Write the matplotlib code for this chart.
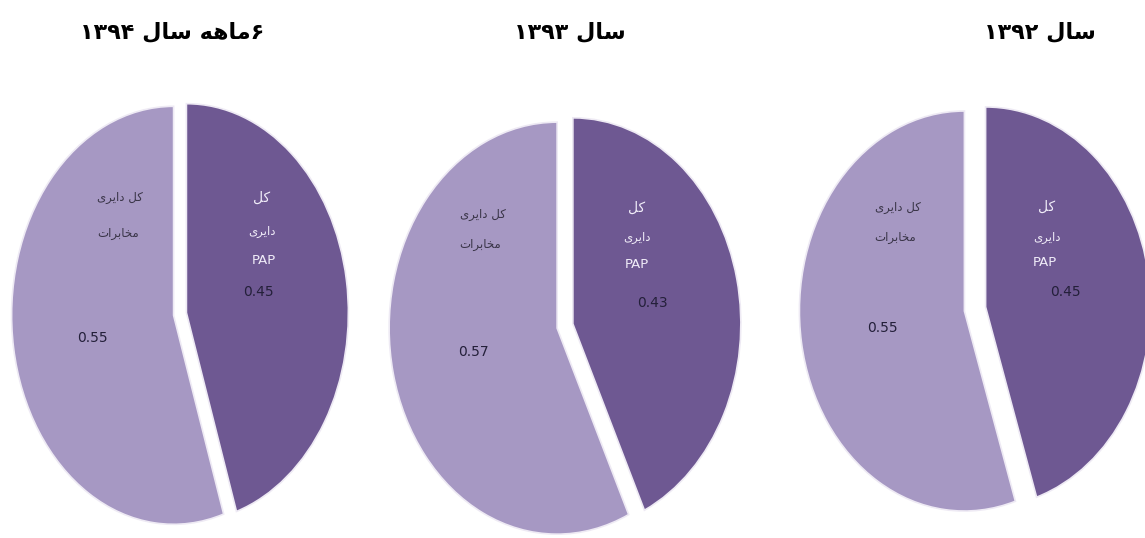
import matplotlib
matplotlib.use("Agg")
import matplotlib.pyplot as plt

# ---- data ----
titles = ["۱۳۹۴ ﻝﺎﺳ ﻪﻫﺎﻣ۶", "۱۳۹۳ ﻝﺎﺳ", "۱۳۹۲ ﻝﺎﺳ"]   # 6-month 1394, 1393, 1392
pap_share = [0.45, 0.43, 0.45]
mokhaberat_share = [0.55, 0.57, 0.55]
pap_value_text = ["0.45", "0.43", "0.45"]
other_value_text = ["0.55", "0.57", "0.55"]
label_kol_dayeri = "ﯼﺮﯾﺍﺩ ﻞﮐ"      # کل دایری
label_kol = "ﻞﮐ"                    # کل
label_dayeri = "ﯼﺮﯾﺍﺩ"              # دایری
label_mokhaberat = "ﺕﺍﺮﺑﺎﺨﻣ"        # مخابرات
label_pap = "PAP"

# ---- style / layout ----
W, H = 1145, 538
dark = "#6e5892"
light = "#a698c3"
fig = plt.figure(figsize=(W / 100, H / 100), dpi=100)
fig.patch.set_facecolor("white")

# pie geometry in pixels: centre x, centre y, radius x, radius y, explode
geoms = [(180, 314, 162, 209, 0.04),
         (565, 326, 168, 206, 0.048),
         (975, 309, 165, 200, 0.065)]
title_x = [172, 570, 1040]
title_y = 32

# text positions (pixels)
txt = [
    dict(kd=(120, 197), mk=(118, 233), ov=(92, 338), kol=(262, 198), day=(262, 232), pap=(264, 260), pv=(258, 292)),
    dict(kd=(483, 215), mk=(480, 245), ov=(473, 352), kol=(637, 208), day=(637, 238), pap=(637, 265), pv=(652, 303)),
    dict(kd=(898, 207), mk=(895, 237), ov=(882, 328), kol=(1047, 207), day=(1047, 237), pap=(1045, 263), pv=(1065, 292)),
]

for i in range(3):
    cx, cy, rx, ry, ex = geoms[i]
    ax = fig.add_axes([(cx - rx) / W, (H - (cy + ry)) / H, 2 * rx / W, 2 * ry / H])
    ax.pie([pap_share[i], mokhaberat_share[i]], colors=[dark, light],
           startangle=90, counterclock=False, explode=[ex, ex],
           wedgeprops=dict(edgecolor="#eeeaf4", linewidth=1.2))
    ax.set_aspect("auto")
    ax.set_xlim(-1, 1)
    ax.set_ylim(-1, 1)
    ax.axis("off")
    for a in ax.patches:
        a.set_clip_on(False)

    def P(p):
        return ((p[0] - cx) / rx, (cy - p[1]) / ry)

    t = txt[i]
    ax.text(*P(t["kd"]), label_kol_dayeri, ha="center", va="center", fontsize=8.5, color="#3a3548")
    ax.text(*P(t["mk"]), label_mokhaberat, ha="center", va="center", fontsize=8.5, color="#3a3548")
    ax.text(*P(t["ov"]), other_value_text[i], ha="center", va="center", fontsize=10, color="#24203a")
    ax.text(*P(t["kol"]), label_kol, ha="center", va="center", fontsize=10, color="#f0ecf8")
    ax.text(*P(t["day"]), label_dayeri, ha="center", va="center", fontsize=8.5, color="#f0ecf8")
    ax.text(*P(t["pap"]), label_pap, ha="center", va="center", fontsize=9.5, color="#f0ecf8")
    ax.text(*P(t["pv"]), pap_value_text[i], ha="center", va="center", fontsize=10, color="#24203a")

    fig.text(title_x[i] / W, 1 - title_y / H, titles[i], ha="center", va="center",
             fontsize=16, fontweight="bold", family="DejaVu Sans", color="black")

fig.savefig("out.png", dpi=100, facecolor="white")
